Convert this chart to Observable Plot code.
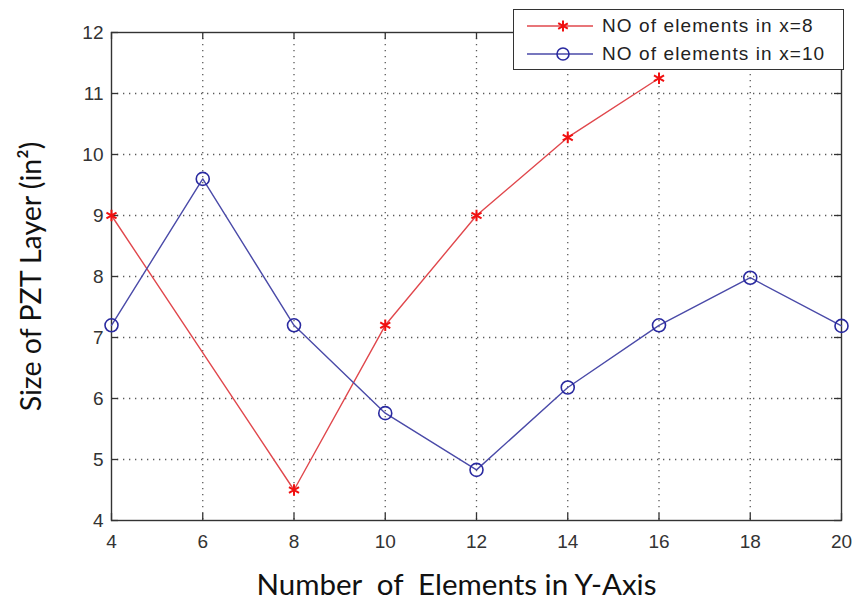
<!DOCTYPE html>
<html>
<head>
<meta charset="utf-8">
<script src="https://cdn.jsdelivr.net/npm/d3@7"></script>
<script src="https://cdn.jsdelivr.net/npm/@observablehq/plot@0.6"></script>
<style>
  body { margin: 0; background: #fff; }
  #wrap { position: relative; width: 855px; height: 610px; background: #fff; }
  svg text { white-space: pre; }
  #legend {
    position: absolute; left: 513px; top: 9px; width: 331px; height: 61px;
    box-sizing: border-box; border: 1.4px solid #333; background: #fff;
    font-family: "Liberation Sans", Arial, sans-serif; font-size: 19px; letter-spacing: 1.1px; color: #222;
    padding-top: 2px;
  }
  #legend .row { display: flex; align-items: center; height: 28px; }
  #legend svg { width: 88px; height: 20px; flex: none; }
</style>
</head>
<body>
<div id="wrap"></div>
<script>
// ---- data ----
const xTicks = [4, 6, 8, 10, 12, 14, 16, 18, 20];
const yTicks = [4, 5, 6, 7, 8, 9, 10, 11, 12];

const seriesNames = ["NO of elements in x=8", "NO of elements in x=10"];

const redX = [4, 8, 10, 12, 14, 16];
const redY = [9, 4.5, 7.2, 9, 10.28, 11.25];

const blueX = [4, 6, 8, 10, 12, 14, 16, 18, 20];
const blueY = [7.2, 9.6, 7.2, 5.76, 4.83, 6.18, 7.2, 7.98, 7.19];

const xTitle = "Number  of  Elements in Y-Axis";
const yTitle = "Size of PZT Layer (in\u00B2)";

// ---- build ----
const red = redX.map((x, i) => ({x, y: redY[i]}));
const blue = blueX.map((x, i) => ({x, y: blueY[i]}));

const redLine = "#e0474c", redMark = "#f01010";
const blueLine = "#4a4aa8", blueMark = "#2a2aa0";

const W = 855, H = 610, ML = 111, MR = 14, MT = 32, MB = 90;
const plotW = W - ML - MR, plotH = H - MT - MB, tick = 7;
const titleFont = "Lato, 'Open Sans', sans-serif";

const chart = Plot.plot({
  width: W,
  height: H,
  marginLeft: ML,
  marginRight: MR,
  marginTop: MT,
  marginBottom: MB,
  x: {domain: [4, 20]},
  y: {domain: [4, 12]},
  style: {fontFamily: "'Liberation Sans', Arial, sans-serif", fontSize: "19px", color: "#333", background: "#fff"},
  marks: [
    Plot.gridX(xTicks.slice(1, -1), {stroke: "#222", strokeOpacity: 0.75, strokeWidth: 1.3, strokeDasharray: "1.3,4.7"}),
    Plot.gridY(yTicks.slice(1, -1), {stroke: "#222", strokeOpacity: 0.75, strokeWidth: 1.3, strokeDasharray: "1.3,4.7"}),
    // inward ticks on all four sides
    Plot.tickX(xTicks, {x: d => d, insetTop: plotH - tick, stroke: "#333", strokeWidth: 1.3}),
    Plot.tickX(xTicks, {x: d => d, insetBottom: plotH - tick, stroke: "#333", strokeWidth: 1.3}),
    Plot.tickY(yTicks, {y: d => d, insetRight: plotW - tick, stroke: "#333", strokeWidth: 1.3}),
    Plot.tickY(yTicks, {y: d => d, insetLeft: plotW - tick, stroke: "#333", strokeWidth: 1.3}),
    Plot.frame({stroke: "#333", strokeWidth: 1.4}),
    // tick labels
    Plot.axisX(xTicks, {anchor: "bottom", tickSize: 0, tickPadding: 14, label: null, tickFormat: d => String(d), fill: "#333", fontSize: 19}),
    Plot.axisY(yTicks, {anchor: "left", tickSize: 0, tickPadding: 8, label: null, tickFormat: d => String(d), fill: "#333", fontSize: 19}),
    // series
    Plot.line(red, {x: "x", y: "y", stroke: redLine, strokeWidth: 1.4}),
    Plot.dot(red, {x: "x", y: "y", symbol: "asterisk", r: 5.5, stroke: redMark, strokeWidth: 2}),
    Plot.line(blue, {x: "x", y: "y", stroke: blueLine, strokeWidth: 1.4}),
    Plot.dot(blue, {x: "x", y: "y", symbol: "circle", r: 6.5, stroke: blueMark, fill: "none", strokeWidth: 1.6}),
    // titles
    Plot.text([xTitle], {frameAnchor: "bottom", textAnchor: "middle", dx: -20, dy: 74, fontSize: 29.5, fontFamily: titleFont, fill: "#111"}),
    Plot.text([yTitle], {frameAnchor: "left", textAnchor: "middle", rotate: -90, dx: -80, dy: 0, fontSize: 28.5, fontFamily: titleFont, fill: "#111"})
  ]
});

const wrap = document.getElementById("wrap");
wrap.appendChild(chart);

// legend
const legend = document.createElement("div");
legend.id = "legend";
const entries = [
  {name: seriesNames[0], line: redLine, mark: redMark, sym: "asterisk"},
  {name: seriesNames[1], line: blueLine, mark: blueMark, sym: "circle"}
];
for (const e of entries) {
  const row = document.createElement("div");
  row.className = "row";
  const markSvg = e.sym === "circle"
    ? `<circle cx="49" cy="10" r="6" fill="none" stroke="${e.mark}" stroke-width="1.6"/>`
    : `<path d="M49,4.5v11M44.2,7.2l9.6,5.5M44.2,12.8l9.6,-5.5" stroke="${e.mark}" stroke-width="2"/>`;
  row.innerHTML = `<svg viewBox="0 0 88 20"><line x1="13" x2="79" y1="10" y2="10" stroke="${e.line}" stroke-width="1.4"/>${markSvg}</svg><span>${e.name}</span>`;
  legend.appendChild(row);
}
wrap.appendChild(legend);
</script>
</body>
</html>
